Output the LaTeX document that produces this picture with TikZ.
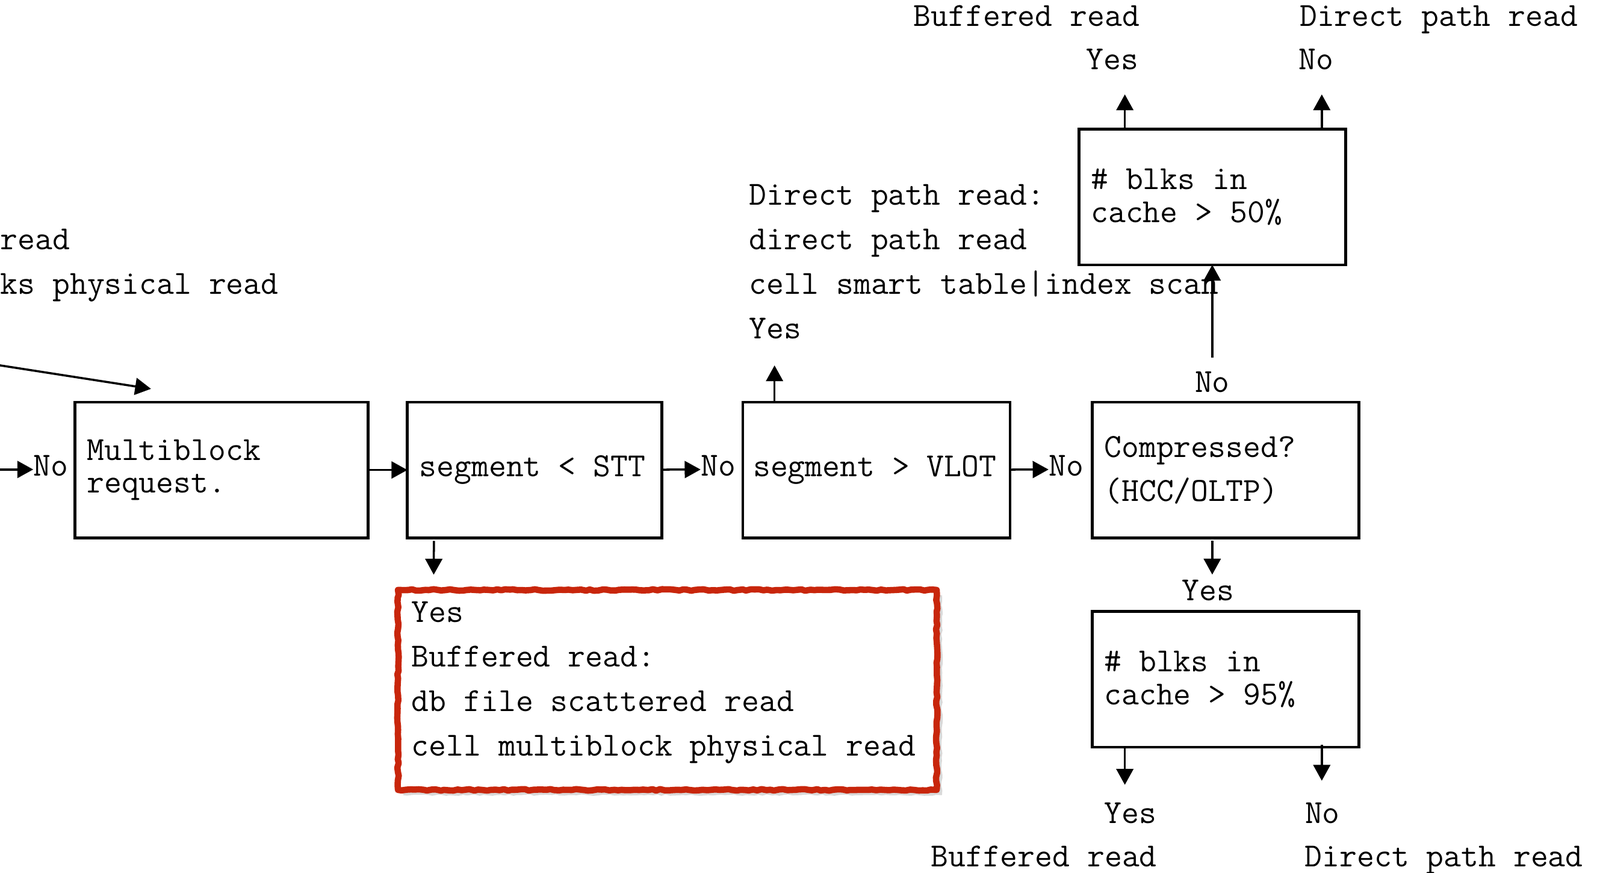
\documentclass[tikz,border=0pt]{standalone}
\usepackage{fontspec}
\usepackage{tikz}
\usetikzlibrary{arrows.meta,calc,shadows,decorations.pathmorphing}

\definecolor{markred}{RGB}{200,38,12}

\tikzset{
  box/.style={draw, line width=1.3pt, outer sep=0pt, minimum height=2.254cm, inner xsep=0.2cm, inner ysep=0pt, align=left,
    execute at begin node={\spaceskip=0pt\xspaceskip=0pt}},
  tight/.style={font=\ttfamily\fontsize{15.95}{15.43}\selectfont},
  lbl/.style={inner sep=0pt, text height=0.62em, text depth=0pt},
  txt/.style={inner sep=0pt, align=left, anchor=north west},
  arr/.style={-{Triangle[length=7.5pt,width=8pt]}, line width=1pt},
}

\begin{document}
\begin{tikzpicture}[x=0.01695cm, y=-0.01695cm, font=\ttfamily\fontsize{15.95}{21.08}\selectfont]
\useasboundingbox (0,0) rectangle (1568,855);

% Text cut off at the left edge
\node[txt] (leftrd) at (0,224) {read\\ks physical read};

% Incoming arrows
\coordinate (in1) at (0,358);
\coordinate (mbin) at (148,381);
\draw[arr] (in1) -- (mbin);
\coordinate (in2) at (0,460);
\node[lbl] (noA) at (50,460) {No};
\draw[arr] (in2) -- (noA.west);

% Decision boxes
\node[box, tight, text width=4.47cm] (mb) at (217,460.5) {Multiblock\\request.};
\node[box, text width=3.83cm] (stt) at (524,460.5) {segment < STT};
\node[box, inner xsep=0.17cm, text width=4.1cm] (vlot) at (859,460.5) {segment > VLOT};
\node[box, text width=4.03cm, font=\ttfamily\fontsize{15.95}{20.7}\selectfont] (comp) at (1201,460.5) {Compressed?\\(HCC/OLTP)};
\node[box, tight, text width=4.03cm] (c50) at (1188,193) {\# blks in\\cache > 50\%};
\node[box, tight, text width=4.03cm] (c95) at (1201,665.5) {\# blks in\\cache > 95\%};

% Main row
\draw[arr] (mb) -- (stt);
\node[lbl] (noB) at (704,460) {No};
\draw[arr] (stt) -- (noB);
\node[lbl] (noC) at (1045,460) {No};
\draw[arr] (vlot) -- (noC);

% Yes branch of segment < STT
\node[draw=markred, line width=3pt, line join=round, outer sep=0pt, fill=white,
  decorate, decoration={random steps, segment length=2pt, amplitude=0.35pt},
  drop shadow={shadow xshift=2.5pt, shadow yshift=-2.5pt, opacity=0.3},
  minimum width=8.95cm, minimum height=3.32cm, inner sep=0pt] (redbx) at (654,676) {};
\node[txt] (bufrd) at (403,589) {Yes\\Buffered read:\\db file scattered read\\cell multiblock physical read};
\draw[arr] ($(stt.south west)+(26,3)$) -- ($(redbx.north west)+(35,-15)$);

% Yes branch of segment > VLOT
\node[txt] (dpr) at (734,180) {Direct path read:\\direct path read\\cell smart table|index scan\\Yes};
\draw[arr] ($(vlot.north west)+(31,0)$) -- ($(vlot.north west)+(31,-36)$);

% Compressed? branches
\node[lbl] (noD) at (1188,378) {No};
\draw[arr] ($(noD.north)+(0,-21)$) -- (c50.south);
\node[lbl] (yesA) at (1184,582) {Yes};
\draw[arr] ($(comp.south)+(-13,3)$) -- ($(comp.south)+(-13,36)$);

% Outcomes of cache > 50%
\draw[arr] ($(c50.north west)+(45,0)$) -- ($(c50.north west)+(45,-34)$);
\draw[arr] ($(c50.north west)+(238,0)$) -- ($(c50.north west)+(238,-34)$);
\node[lbl] (yesB) at (1090,62) {Yes};
\node[lbl] (noF) at (1290,62) {No};
\node[lbl] (bufA) at (1006,19) {Buffered read};
\node[lbl] (dirA) at (1410,19) {Direct path read};

% Outcomes of cache > 95%
\draw[arr] ($(c95.south west)+(32,0)$) -- ($(c95.south west)+(32,37)$);
\draw[arr] ($(c95.south west)+(225,-2)$) -- ($(c95.south west)+(225,33)$);
\node[lbl] (yesC) at (1108,800) {Yes};
\node[lbl] (noG) at (1296,800) {No};
\node[lbl] (bufB) at (1023,843) {Buffered read};
\node[lbl] (dirB) at (1415,843) {Direct path read};
\end{tikzpicture}
\end{document}
